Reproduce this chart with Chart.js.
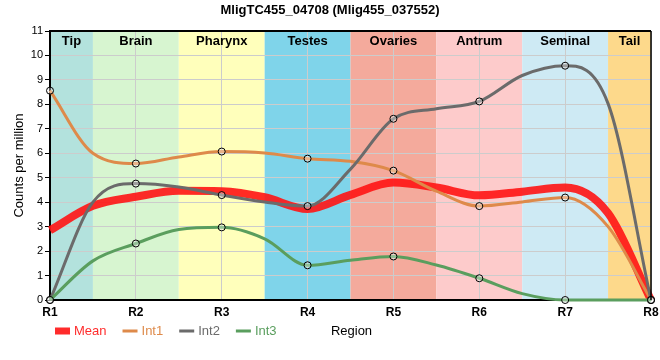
<!DOCTYPE html>
<html>
<head>
<meta charset="utf-8">
<script src="https://cdn.jsdelivr.net/npm/chart.js@4"></script>
<style>
  html, body { margin: 0; padding: 0; background: #fff; }
  #wrap { width: 660px; height: 360px; }
</style>
</head>
<body>
<div id="wrap"><canvas id="chart" width="660" height="360"></canvas></div>
<script>
'use strict';

// tick labels along the x axis
const REGIONS = ['R1', 'R2', 'R3', 'R4', 'R5', 'R6', 'R7', 'R8'];

// sample positions (region index, halves included)
const X_POS = [1, 1.5, 2, 2.5, 3, 3.5, 4, 4.5, 5, 5.5, 6, 6.5, 7, 7.5, 8];

const MEAN = [2.85, 3.85, 4.22, 4.47, 4.45, 4.2, 3.72, 4.3, 4.8, 4.6, 4.28, 4.43, 4.6, 3.55, 0];
const INT1 = [8.56, 6.0, 5.58, 5.85, 6.07, 6.01, 5.78, 5.67, 5.29, 4.45, 3.84, 4.01, 4.19, 3.0, 0];
const INT2 = [0, 4.0, 4.76, 4.62, 4.29, 4.01, 3.84, 5.35, 7.41, 7.82, 8.12, 9.18, 9.58, 8.03, 0];
const INT3 = [0, 1.6, 2.31, 2.88, 2.97, 2.5, 1.42, 1.63, 1.78, 1.43, 0.89, 0.26, 0, 0, 0];

// tissue bands behind the plot
const BAND_LABELS = ['Tip', 'Brain', 'Pharynx', 'Testes', 'Ovaries', 'Antrum', 'Seminal', 'Tail'];
const BAND_START = [1, 1.5, 2.5, 3.5, 4.5, 5.5, 6.5, 7.5];
const BAND_END = [1.5, 2.5, 3.5, 4.5, 5.5, 6.5, 7.5, 8];
const BAND_COLORS = ['#b3e2dd', '#d7f5d0', '#ffffbb', '#7fd4ea', '#f4aa9c', '#fdcbcb', '#ceeaf4', '#fdd98b'];

const RED = 'rgba(255, 20, 20, 0.9)';
const ORANGE = '#de8a4a';
const GRAY = '#6b6b6b';
const GREEN = '#5a9e5e';

const FONT = '"Liberation Sans", Arial, sans-serif';
Chart.defaults.font.family = FONT;
Chart.defaults.color = '#000';

const pts = ys => X_POS.map((x, i) => ({ x: x, y: ys[i] }));
const markerRadius = ctx => (ctx.raw && Number.isInteger(ctx.raw.x) ? 3.5 : 0);

function series(label, ys, color, width, order, markers) {
  return {
    label: label,
    data: pts(ys),
    borderColor: color,
    backgroundColor: color,
    borderWidth: width,
    cubicInterpolationMode: 'monotone',
    tension: 0.4,
    fill: false,
    order: order,
    clip: false,
    pointRadius: markers ? markerRadius : 0,
    pointBackgroundColor: 'rgba(255,255,255,0.35)',
    pointBorderColor: '#000',
    pointBorderWidth: 1,
  };
}

const bandsPlugin = {
  id: 'bands',
  beforeDraw(chart) {
    const { ctx, chartArea, scales } = chart;
    ctx.save();
    BAND_LABELS.forEach((_, i) => {
      const x0 = scales.x.getPixelForValue(BAND_START[i]);
      const x1 = scales.x.getPixelForValue(BAND_END[i]);
      ctx.fillStyle = BAND_COLORS[i];
      ctx.fillRect(x0, chartArea.top, x1 - x0, chartArea.bottom - chartArea.top);
    });
    ctx.restore();
  },
  beforeDatasetsDraw(chart) {
    const { ctx, chartArea, scales } = chart;
    ctx.save();
    ctx.font = 'bold 13px ' + FONT;
    ctx.fillStyle = '#000';
    ctx.textAlign = 'center';
    ctx.textBaseline = 'middle';
    BAND_LABELS.forEach((name, i) => {
      const xc = scales.x.getPixelForValue((BAND_START[i] + BAND_END[i]) / 2);
      ctx.fillText(name, xc, chartArea.top + 10);
    });
    ctx.restore();
  },
  afterDraw(chart) {
    const { ctx, chartArea } = chart;
    ctx.save();
    // frame top + right
    ctx.strokeStyle = '#000';
    ctx.lineWidth = 2;
    ctx.beginPath();
    ctx.moveTo(chartArea.left, chartArea.top);
    ctx.lineTo(chartArea.right, chartArea.top);
    ctx.stroke();
    ctx.lineWidth = 1.5;
    ctx.beginPath();
    ctx.moveTo(chartArea.right, chartArea.top);
    ctx.lineTo(chartArea.right, chartArea.bottom);
    ctx.stroke();

    // title
    ctx.font = 'bold 13px ' + FONT;
    ctx.textAlign = 'center';
    ctx.textBaseline = 'middle';
    ctx.fillStyle = '#000';
    ctx.fillText('MligTC455_04708 (Mlig455_037552)', chart.width / 2, 10);

    // legend row
    const items = [
      { label: 'Mean', color: RED, thick: true },
      { label: 'Int1', color: ORANGE },
      { label: 'Int2', color: GRAY },
      { label: 'Int3', color: GREEN },
    ];
    ctx.font = '13px ' + FONT;
    ctx.textAlign = 'left';
    let x = 55;
    const y = 331;
    items.forEach(it => {
      ctx.fillStyle = it.color;
      if (it.thick) ctx.fillRect(x, y - 3.5, 15, 7);
      else ctx.fillRect(x, y - 1.5, 15, 3);
      ctx.fillText(it.label, x + 19, y);
      x += 19 + ctx.measureText(it.label).width + 16;
    });

    // x axis title on the legend row
    ctx.fillStyle = '#000';
    ctx.textAlign = 'center';
    ctx.fillText('Region', (chartArea.left + chartArea.right) / 2 + 1, y);
    ctx.restore();
  },
};

new Chart(document.getElementById('chart'), {
  type: 'line',
  data: {
    datasets: [
      series('Mean', MEAN, RED, 8, 4, false),
      series('Int1', INT1, ORANGE, 3, 3, true),
      series('Int2', INT2, GRAY, 3, 2, true),
      series('Int3', INT3, GREEN, 3, 1, true),
    ],
  },
  options: {
    responsive: false,
    animation: false,
    layout: { padding: { top: 31, right: 9, left: 0, bottom: 0 } },
    plugins: {
      legend: { display: false },
      tooltip: { enabled: false },
      title: { display: false },
    },
    scales: {
      x: {
        type: 'linear',
        min: 1,
        max: 8,
        afterFit: s => { s.height = 60; s.paddingLeft = 0; s.paddingRight = 0; },
        ticks: {
          stepSize: 1,
          padding: 5,
          font: { size: 12, weight: 'bold' },
          callback: v => REGIONS[v - 1],
        },
        grid: { color: '#cccccc', lineWidth: 1, drawTicks: false },
        border: { color: '#000', width: 2 },
      },
      y: {
        min: 0,
        max: 11,
        afterFit: s => { s.width = 50; s.paddingTop = 0; s.paddingBottom = 0; },
        ticks: { stepSize: 1, padding: 2, font: { size: 11 } },
        grid: { color: '#cccccc', lineWidth: 1, tickLength: 5, tickColor: '#000' },
        border: { color: '#000', width: 2 },
        title: {
          display: true,
          text: 'Counts per million',
          font: { size: 13 },
          padding: { top: 12, bottom: 0 },
        },
      },
    },
  },
  plugins: [bandsPlugin],
});
</script>
</body>
</html>
